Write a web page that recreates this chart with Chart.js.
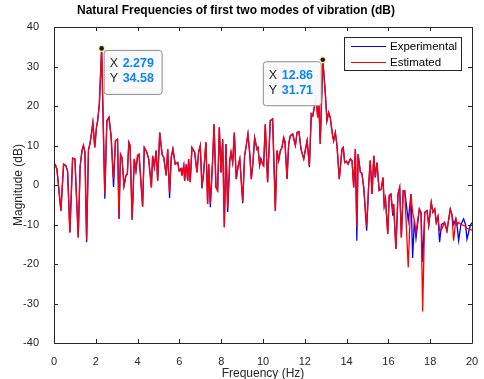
<!DOCTYPE html>
<html>
<head>
<meta charset="utf-8">
<title>Natural Frequencies</title>
<script src="https://cdn.jsdelivr.net/npm/chart.js@4.4.1/dist/chart.umd.min.js"></script>
<style>
    html, body { margin: 0; padding: 0; background: #ffffff; }
    canvas { display: block; }
</style>
</head>
<body>
<canvas id="freqChart" width="484" height="379"></canvas>
<script>
// Frequency axis (Hz)
const freqs = [0.05,0.14,0.33,0.46,0.57,0.65,0.76,0.89,1.00,1.16,1.25,1.34,1.41,1.48,1.56,1.65,1.72,1.79,1.86,1.95,
    2.03,2.09,2.17,2.279,2.43,2.53,2.63,2.73,2.85,2.94,3.04,3.11,3.18,3.25,3.35,3.44,3.51,3.58,3.64,3.74,
    3.84,3.92,4.00,4.07,4.24,4.32,4.44,4.53,4.66,4.72,4.80,4.89,4.96,5.06,5.17,5.25,5.37,5.44,5.53,5.61,
    5.69,5.80,5.92,5.99,6.08,6.12,6.21,6.25,6.33,6.40,6.44,6.52,6.60,6.73,6.84,6.92,7.00,7.08,7.16,7.27,
    7.35,7.40,7.48,7.59,7.66,7.75,7.83,7.91,7.99,8.07,8.15,8.23,8.31,8.41,8.47,8.55,8.63,8.72,8.80,8.89,
    9.03,9.12,9.20,9.28,9.36,9.44,9.52,9.60,9.71,9.76,9.84,9.90,9.98,10.03,10.11,10.22,10.35,10.46,10.54,10.59,
    10.67,10.75,10.83,10.91,10.99,11.05,11.15,11.23,11.31,11.42,11.55,11.63,11.72,11.82,11.95,12.02,12.11,12.22,12.31,12.38,
    12.45,12.54,12.62,12.67,12.74,12.86,12.98,13.06,13.14,13.22,13.32,13.38,13.46,13.54,13.65,13.78,13.84,13.91,13.99,14.07,
    14.18,14.26,14.34,14.42,14.49,14.55,14.66,14.73,14.82,14.96,15.06,15.13,15.22,15.30,15.37,15.45,15.56,15.66,15.74,15.80,
    15.86,15.97,16.04,16.12,16.21,16.25,16.36,16.46,16.54,16.62,16.71,16.78,16.95,17.08,17.16,17.24,17.32,17.48,17.56,17.64,
    17.74,17.85,17.93,18.05,18.13,18.22,18.29,18.37,18.45,18.54,18.69,18.80,18.96,19.04,19.12,19.23,19.30,19.36,19.47,19.60,
    19.69,19.76,19.92,20.0];

// Magnitude (dB)
const experimental = [5.3,4.0,-6.5,5.3,4.9,3.5,-12,6.8,6.6,-13.3,4.7,8.7,10,8.3,-14.5,8.9,10.4,12.9,15.8,9.5,
    14.5,16.3,20.5,34.58,-3.5,16.3,17.1,12.5,-0.5,11.2,11.6,-8.6,7.8,7,-0.2,2.4,2.8,10.8,10,-8.8,
    6.6,3.6,7.5,7.8,-5.5,9.5,8.3,6.6,-0.6,7.4,4.5,8.7,1.1,13.3,7.8,7,2.4,9.1,-3.3,7,
    9.1,5.3,5.7,3.6,4.1,2.4,4.9,1.1,5.3,1.1,6.6,0.7,9.5,8.3,3.2,8.3,10,-0.9,3.2,10.8,
    -4.8,5.3,-5.6,6.2,15.4,-0.6,-1.4,14.6,3.2,11.6,-10.7,10.4,-6.8,6.2,8.3,5.7,13.3,1.5,4.5,6.6,
    -4.6,7.4,10,12.9,8.3,1.5,5.7,12,9.1,9.5,4.9,6.6,5.3,4.9,15.4,0.7,16.3,16.7,2.8,-6.5,
    8.7,6.2,8.7,9.5,12,11,1.5,10.4,12.5,12.9,10,13.3,13.5,9,6.6,8.7,11.2,4.5,18,17.5,
    19.6,21.8,17.1,21.3,10.4,31.71,23.4,16.3,18.4,17,12.9,11.2,13.3,10,1.5,9.1,9.5,5.7,6,5.3,
    6.6,6.2,-0.6,9.1,-14.1,7.8,3.2,3.0,-0.6,-11.6,0.3,6.2,-2.3,7.4,1.9,5.7,-1.4,-1.0,1.9,-5.2,
    -3.5,-12.4,-2.7,-2.3,-7.8,-4.8,-16.2,-2.3,-0.6,-13.3,-1.4,-1.4,-9,-2.3,-18.5,-9,-13.5,-6.1,-7,-19.5,
    -6.9,-6.5,-10.2,-4.4,-6.9,-6.1,-9.5,-8,-14.5,-10,-9.5,-11.6,-6.1,-7.5,-10,-8.6,-11,-14.1,-10,-8.6,
    -10,-13.7,-10.2,-9.5];

const estimated = [5.3,4.0,-6.5,5.3,4.9,3.5,-12,6.8,6.6,-13.3,4.7,8.7,10,8.3,-13.8,8.9,10.4,12.9,15.8,9.5,
    14.5,16.3,20.5,34.58,-2.2,16.3,17.1,12.5,1.5,11.2,11.6,-8.6,7.8,7,-0.2,2.4,2.8,10.8,10,-8.8,
    6.6,3.6,7.5,7.8,-5.5,9.5,8.3,6.6,-0.6,7.4,4.5,8.7,1.1,13.3,7.8,7,2.4,9.1,-2,7,
    9.1,5.3,5.7,3.6,4.1,2.4,4.9,1.1,5.3,1.1,6.6,0.7,9.5,8.3,3.2,8.3,10,-0.4,3.2,10.8,
    -4.8,5.3,-4.8,6.2,15.4,-0.6,-1.4,14.6,3.2,11.6,-10.7,10.4,-5.8,6.2,8.3,5.7,13.3,1.5,4.5,6.6,
    -4.2,7.4,10,12.9,8.3,1.5,5.7,12,9.1,9.5,4.9,6.6,5.3,4.9,15.4,0.7,16.3,16.7,2.8,-6.5,
    8.7,6.2,8.7,9.5,12,11,1.5,10.4,12.5,12.9,10,13.3,13.5,9,6.6,8.7,11.2,4.9,18,17.5,
    19.6,21.8,17.1,21.3,10.4,31.71,23.4,16.3,18.4,17,12.9,11.2,13.3,10,1.5,9.1,9.5,5.7,6,5.3,
    6.6,6.2,-0.6,9.1,-10.7,7.8,3.2,3.0,-0.6,-10.5,0.3,6.2,-2.3,7.4,1.9,5.7,-1.4,-1.0,1.9,-5.2,
    -3.5,-12.4,-2.7,-2.3,-6.5,-4.8,-16.2,-2.3,-0.6,-13.3,-1.4,-1.4,-20.9,-2.3,-7,-9,-12,-6.1,-7,-32,
    -6.9,-6.5,-10.2,-4.4,-6.9,-6.1,-9.5,-8,-11.5,-11.3,-9.5,-11.6,-6.1,-7.5,-14.1,-8.6,-10,-9.5,-10,-10.2,
    -10.5,-11,-11.2,-11.5];

const xTicks = [0, 2, 4, 6, 8, 10, 12, 14, 16, 18, 20];
const yTicks = [-40, -30, -20, -10, 0, 10, 20, 30, 40];

// data tips shown on the two peaks
const tipX = [2.279, 12.86];
const tipY = [34.58, 31.71];
const tipSide = ['right', 'left'];

const FONT = "'Liberation Sans', Arial, Helvetica, sans-serif";
const AXIS_COLOR = '#262626';

function toPoints(ys) {
    return freqs.map((f, i) => ({ x: f, y: ys[i] }));
}

// Box, inward ticks, legend and data tips (MATLAB look)
const matlabDecor = {
    id: 'matlabDecor',
    afterDatasetsDraw(chart) {
        const ctx = chart.ctx;
        const { left, right, top, bottom } = chart.chartArea;
        const xs = chart.scales.x;
        const ys = chart.scales.y;

        ctx.save();
        ctx.strokeStyle = AXIS_COLOR;
        ctx.lineWidth = 1;
        ctx.beginPath();
        ctx.rect(Math.round(left) + 0.5, Math.round(top) + 0.5, Math.round(right - left), Math.round(bottom - top));
        ctx.stroke();

        const tl = 4;
        ctx.beginPath();
        xTicks.forEach(v => {
            const px = Math.round(xs.getPixelForValue(v)) + 0.5;
            ctx.moveTo(px, bottom);
            ctx.lineTo(px, bottom - tl);
            ctx.moveTo(px, top);
            ctx.lineTo(px, top + tl);
        });
        yTicks.forEach(v => {
            const py = Math.round(ys.getPixelForValue(v)) + 0.5;
            ctx.moveTo(left, py);
            ctx.lineTo(left + tl, py);
            ctx.moveTo(right, py);
            ctx.lineTo(right - tl, py);
        });
        ctx.stroke();

        // legend
        const lx = 344, ly = 37, lw = 117, lh = 33;
        ctx.fillStyle = '#ffffff';
        ctx.fillRect(lx, ly, lw, lh);
        ctx.strokeStyle = AXIS_COLOR;
        ctx.strokeRect(lx + 0.5, ly + 0.5, lw, lh);
        ctx.font = '11.5px ' + FONT;
        ctx.textBaseline = 'middle';
        ctx.textAlign = 'left';
        const legendOrder = [chart.data.datasets[1], chart.data.datasets[0]];
        legendOrder.forEach((ds, i) => {
            const yy = ly + 9.5 + i * 16;
            ctx.strokeStyle = ds.borderColor;
            ctx.lineWidth = 1;
            ctx.beginPath();
            ctx.moveTo(lx + 7, yy);
            ctx.lineTo(lx + 42, yy);
            ctx.stroke();
            ctx.fillStyle = '#000000';
            ctx.fillText(ds.label, lx + 46, yy);
        });

        // data tips
        tipX.forEach((tx, i) => {
            const px = xs.getPixelForValue(tx);
            const py = ys.getPixelForValue(tipY[i]);
            const w = 58, h = 44;
            const bx = tipSide[i] === 'right' ? px + 2 : px - 2 - w;
            const by = py + 1.5;

            ctx.beginPath();
            ctx.roundRect(bx + 0.5, by + 0.5, w, h, 3);
            ctx.fillStyle = 'rgba(250,250,253,0.96)';
            ctx.fill();
            ctx.strokeStyle = '#8c8c8c';
            ctx.lineWidth = 1;
            ctx.stroke();

            ctx.textBaseline = 'middle';
            ctx.fillStyle = '#262626';
            ctx.font = '12.5px ' + FONT;
            ctx.fillText('X', bx + 6, by + 14);
            ctx.fillText('Y', bx + 6, by + 29);
            ctx.fillStyle = '#0a84ff';
            ctx.font = 'bold 12.5px ' + FONT;
            ctx.fillText(String(tx), bx + 19, by + 14);
            ctx.fillText(String(tipY[i]), bx + 19, by + 29);

            ctx.beginPath();
            ctx.arc(px, py, 3.5, 0, Math.PI * 2);
            ctx.fillStyle = '#f4f0a8';
            ctx.fill();
            ctx.beginPath();
            ctx.arc(px, py, 2.3, 0, Math.PI * 2);
            ctx.fillStyle = '#1a1a1a';
            ctx.fill();
        });
        ctx.restore();
    }
};

const ctx = document.getElementById('freqChart').getContext('2d');
const freqChart = new Chart(ctx, {
    type: 'line',
    data: {
        datasets: [{
            label: 'Estimated',
            data: toPoints(estimated),
            borderColor: '#ff0000',
            borderWidth: 1.3,
            pointRadius: 0,
            tension: 0,
            fill: false,
            order: 1
        }, {
            label: 'Experimental',
            data: toPoints(experimental),
            borderColor: '#0000ff',
            borderWidth: 1.3,
            pointRadius: 0,
            tension: 0,
            fill: false,
            order: 2
        }]
    },
    options: {
        responsive: false,
        animation: false,
        layout: {
            padding: { left: 0, right: 12, top: 0, bottom: 0 }
        },
        plugins: {
            legend: { display: false },
            tooltip: { enabled: false },
            title: {
                display: true,
                text: 'Natural Frequencies of first two modes of vibration (dB)',
                color: '#000000',
                font: { family: FONT, size: 12, weight: 'bold' },
                padding: { top: 3, bottom: 9.6 }
            }
        },
        scales: {
            x: {
                type: 'linear',
                min: 0,
                max: 20,
                afterBuildTicks: scale => { scale.ticks = xTicks.map(v => ({ value: v })); },
                afterFit: scale => { scale.height = 36; },
                grid: { display: false },
                border: { display: false },
                ticks: {
                    color: AXIS_COLOR,
                    font: { family: FONT, size: 11 },
                    padding: 4,
                    maxRotation: 0,
                    autoSkip: false
                },
                title: {
                    display: true,
                    text: 'Frequency (Hz)',
                    color: AXIS_COLOR,
                    font: { family: FONT, size: 12 },
                    padding: { top: 0, bottom: -2 }
                }
            },
            y: {
                min: -40,
                max: 40,
                afterBuildTicks: scale => { scale.ticks = yTicks.map(v => ({ value: v })); },
                afterFit: scale => { scale.width = 54; },
                grid: { display: false },
                border: { display: false },
                ticks: {
                    color: AXIS_COLOR,
                    font: { family: FONT, size: 11 },
                    padding: 7,
                    autoSkip: false
                },
                title: {
                    display: true,
                    text: 'Magnitude (dB)',
                    color: AXIS_COLOR,
                    font: { family: FONT, size: 12 },
                    padding: { top: 11, bottom: 0 }
                }
            }
        }
    },
    plugins: [matlabDecor]
});
</script>
</body>
</html>
